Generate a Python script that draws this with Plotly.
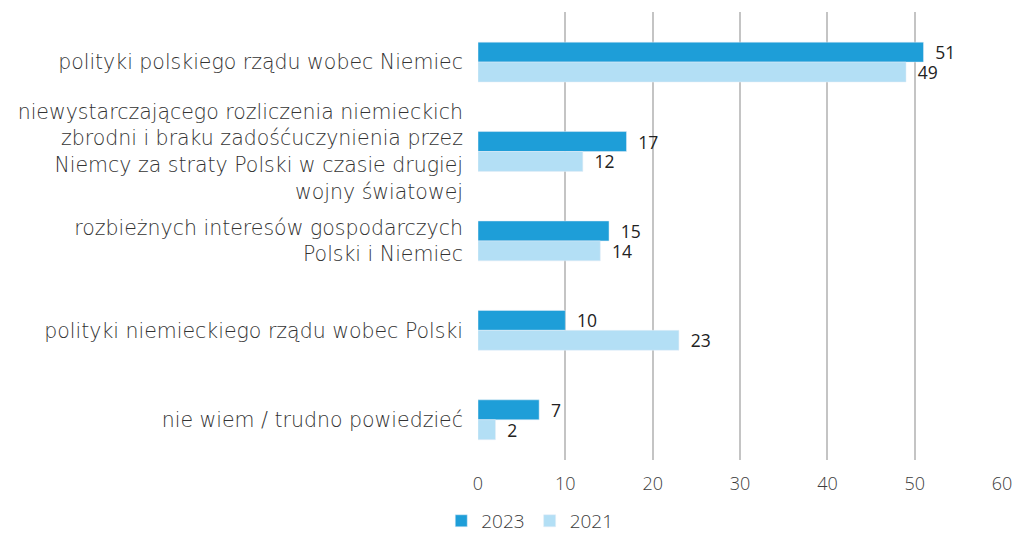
import plotly.graph_objects as go

categories = [
    "polityki polskiego rządu wobec Niemiec",
    "niewystarczającego rozliczenia niemieckich<br>zbrodni i braku zadośćuczynienia przez<br>Niemcy za straty Polski w czasie drugiej<br>wojny światowej",
    "rozbieżnych interesów gospodarczych<br>Polski i Niemiec",
    "polityki niemieckiego rządu wobec Polski",
    "nie wiem / trudno powiedzieć",
]
values_2023 = [51, 17, 15, 10, 7]
values_2021 = [49, 12, 14, 23, 2]
tick_vals = [0, 10, 20, 30, 40, 50, 60]

FONT = "Open Sans"
CAT_FONT = "DejaVu Sans"
TXT = "#3c3c3c"
LBL = "\u2002%{x}"

fig = go.Figure()
fig.add_trace(go.Bar(
    name="2023", y=categories, x=values_2023, orientation="h",
    marker_color="#1e9ed8", texttemplate=LBL, textposition="outside",
    constraintext="none",
    textfont=dict(size=17.5, color="#222222", family=FONT, weight=400), cliponaxis=False,
))
fig.add_trace(go.Bar(
    name="2021", y=categories, x=values_2021, orientation="h",
    marker_color="#b3dff5", texttemplate=LBL, textposition="outside",
    constraintext="none",
    textfont=dict(size=17.5, color="#222222", family=FONT, weight=400), cliponaxis=False,
))

fig.update_layout(
    width=1018, height=535,
    barmode="group", bargap=0.554, bargroupgap=0,
    margin=dict(l=478, r=15, t=12, b=75, autoexpand=False),
    plot_bgcolor="white", paper_bgcolor="white",
    font=dict(family=FONT, size=18, color=TXT, weight=300),
    showlegend=True,
    legend=dict(orientation="h", x=-0.07, xanchor="left", y=-0.136, yref="paper",
                yanchor="middle", font=dict(size=19, color=TXT, weight=300),
                itemwidth=30, tracegroupgap=0),
    xaxis=dict(range=[0, 60.1], tickvals=tick_vals, showgrid=True, gridcolor="#c4c4c4",
               gridwidth=1.5, zeroline=False, showline=False, ticks="",
               tickfont=dict(size=18, color=TXT, weight=300), ticklabelstandoff=11),
    yaxis=dict(range=[4.45, -0.56], showgrid=False, ticks="", showline=False,
               tickfont=dict(size=20.5, color="#333333", family=CAT_FONT, weight=300),
               ticklabelstandoff=14),
)

fig.write_html(
    "out.html",
    config={"displayModeBar": False},
    post_script="document.body.style.margin='0';document.body.style.overflow='hidden';",
)
